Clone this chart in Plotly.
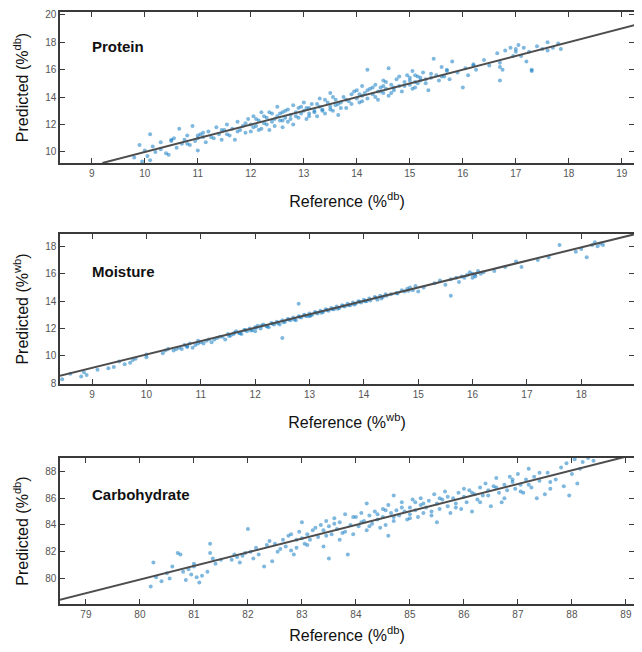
import plotly.graph_objects as go

# ---------------- data ----------------
protein_ref = [9.8, 9.9, 10.0, 10.05, 10.1, 10.15, 10.2, 10.3, 10.4, 10.45, 10.5, 10.55, 10.6, 10.65, 10.7, 10.75, 10.8, 10.85, 10.9, 10.95,
               11.0, 11.0, 11.05, 11.1, 11.15, 11.2, 11.3, 11.35, 11.4, 11.45, 11.5, 11.55, 11.6, 11.65, 11.7, 11.75, 11.8, 11.85, 11.9, 11.95,
               12.0, 12.0, 12.05, 12.1, 12.15, 12.2, 12.2, 12.25, 12.3, 12.35, 12.4, 12.4, 12.45, 12.5, 12.5, 12.55, 12.6, 12.6, 12.65, 12.7,
               12.7, 12.75, 12.8, 12.8, 12.85, 12.9, 12.9, 12.95, 13.0, 13.0, 13.05, 13.1, 13.1, 13.15, 13.2, 13.25, 13.3, 13.3, 13.35, 13.4,
               13.45, 13.5, 13.5, 13.55, 13.6, 13.6, 13.65, 13.7, 13.75, 13.8, 13.85, 13.9, 14.0, 14.0, 14.05, 14.1, 14.1, 14.15, 14.2, 14.2,
               14.25, 14.3, 14.35, 14.4, 14.4, 14.45, 14.5, 14.5, 14.55, 14.6, 14.6, 14.65, 14.7, 14.75, 14.8, 14.85, 14.9, 14.95, 15.0, 15.0,
               15.05, 15.1, 15.1, 15.15, 15.2, 15.25, 15.3, 15.35, 15.4, 15.45, 15.5, 15.55, 15.6, 15.65, 15.7, 15.75, 15.8, 15.9, 16.0, 16.05,
               16.1, 16.2, 16.25, 16.4, 16.5, 16.65, 16.7, 16.7, 16.75, 16.8, 16.9, 16.95, 17.0, 17.05, 17.1, 17.2, 17.25, 17.3, 17.3, 17.4,
               17.5, 17.6, 17.7, 17.8, 17.85, 19.35, 19.45, 10.1, 9.95]
protein_pred = [9.6, 10.5, 10.1, 9.7, 11.3, 10.4, 10.0, 10.7, 9.9, 9.8, 10.9, 11.0, 10.3, 11.7, 10.6, 10.9, 11.2, 10.5, 11.9, 10.8,
                11.0, 10.1, 11.3, 11.1, 10.7, 11.5, 11.0, 11.8, 11.3, 10.9, 11.6, 12.0, 11.2, 11.7, 10.9, 12.2, 11.6, 11.9, 11.4, 12.4,
                12.0, 11.5, 12.6, 11.9, 12.3, 11.7, 12.9, 12.1, 12.5, 11.6, 12.8, 12.2, 11.9, 12.6, 13.3, 12.3, 11.8, 12.9, 12.5, 13.1,
                12.2, 12.7, 13.4, 12.0, 12.9, 13.2, 12.5, 12.8, 13.0, 13.6, 12.4, 13.2, 12.8, 13.5, 13.0, 12.6, 13.3, 13.9, 13.1, 12.8,
                13.6, 13.3, 14.3, 13.0, 13.8, 13.4, 12.7, 13.6, 14.0, 13.2, 13.7, 14.2, 13.9, 14.5, 13.6, 14.1, 14.8, 14.3, 13.9, 16.0,
                14.6, 14.2, 14.9, 14.4, 13.8, 14.7, 14.3, 15.2, 14.6, 14.1, 16.1, 14.9, 14.5, 15.3, 14.8, 14.4, 15.1, 15.6, 14.9, 15.4,
                15.9, 15.1, 14.7, 15.5, 15.2, 15.8, 15.0, 14.5, 15.4, 16.8, 15.6, 15.2, 16.2, 15.5, 15.9, 15.3, 16.6, 15.8, 14.7, 16.1,
                15.6, 16.4, 16.0, 16.7, 16.3, 17.2, 16.2, 15.2, 16.0, 17.4, 17.6, 17.0, 17.5, 17.8, 17.0, 16.6, 17.3, 16.0, 15.9, 17.7,
                17.5, 18.0, 17.6, 17.9, 17.5, 19.7, 19.5, 9.4, 9.3]
protein_ref_b = [11.25, 11.45, 11.55, 11.75, 11.9, 12.05, 12.1, 12.15, 12.25, 12.3, 12.35, 12.45, 12.55, 12.6, 12.65, 12.75,
                 12.85, 12.95, 13.05, 13.1, 13.2, 13.25, 13.35, 13.4, 13.5, 13.55, 13.65, 13.7, 13.8, 13.9, 13.95, 14.05,
                 14.1, 14.2, 14.3, 14.35, 14.45, 14.5, 14.55, 14.65, 14.7, 14.8, 14.9, 15.0, 15.05, 15.1, 15.15, 15.2,
                 15.3, 15.4, 15.6, 15.7, 10.3, 10.5, 10.8, 11.0, 11.1, 16.2, 16.7, 17.0, 17.15, 17.6]
protein_pred_b = [11.1, 11.6, 11.3, 11.5, 12.1, 11.8, 12.4, 11.6, 12.6, 12.0, 12.9, 12.4, 12.8, 12.3, 13.0, 12.4,
                  12.6, 13.3, 13.2, 12.6, 12.9, 13.5, 13.0, 13.8, 13.1, 14.0, 13.5, 13.2, 13.8, 13.5, 14.4, 14.2,
                  13.7, 14.5, 14.7, 14.0, 14.4, 14.8, 15.1, 14.3, 14.7, 15.5, 14.8, 15.2, 14.6, 15.6, 15.0, 15.4,
                  15.3, 15.7, 15.5, 16.0, 10.2, 10.8, 10.6, 11.2, 11.4, 16.3, 16.5, 17.3, 17.6, 17.4]

moisture_ref = [8.45, 8.6, 8.8, 8.85, 8.9, 9.1, 9.3, 9.4, 9.5, 9.6, 9.7, 9.75, 9.8, 10.0, 10.0, 10.3, 10.35, 10.4, 10.5, 10.6,
                10.65, 10.7, 10.75, 10.8, 10.85, 10.9, 10.95, 11.0, 11.05, 11.1, 11.15, 11.2, 11.3, 11.4, 11.45, 11.5, 11.55, 11.6, 11.65, 11.7,
                11.75, 11.8, 11.85, 11.9, 11.95, 12.0, 12.0, 12.05, 12.1, 12.15, 12.2, 12.25, 12.3, 12.35, 12.4, 12.45, 12.5, 12.5, 12.55, 12.6,
                12.65, 12.7, 12.75, 12.8, 12.8, 12.85, 12.9, 12.95, 13.0, 13.0, 13.05, 13.1, 13.15, 13.2, 13.25, 13.3, 13.35, 13.4, 13.45, 13.5,
                13.55, 13.6, 13.65, 13.7, 13.75, 13.8, 13.85, 13.9, 13.95, 14.0, 14.05, 14.1, 14.2, 14.25, 14.3, 14.35, 14.4, 14.5, 14.6, 14.7,
                14.75, 14.8, 14.85, 14.9, 14.95, 15.0, 15.3, 15.4, 15.5, 15.6, 15.6, 15.7, 15.75, 15.8, 15.9, 15.95, 16.0, 16.0, 16.05, 16.1,
                16.15, 16.2, 16.4, 16.6, 16.8, 16.9, 17.2, 17.4, 17.6, 17.9, 18.0, 18.1, 18.2, 18.25, 18.3, 18.35, 18.4, 19.0]
moisture_pred = [8.3, 8.7, 8.5, 8.8, 8.6, 9.0, 9.1, 9.2, 9.6, 9.4, 9.5, 9.7, 9.8, 10.1, 9.9, 10.2, 10.4, 10.5, 10.4, 10.6,
                 10.5, 10.8, 10.7, 10.9, 10.6, 10.8, 11.1, 11.0, 10.9, 11.1, 11.2, 11.0, 11.3, 11.4, 11.2, 11.6, 11.5, 11.6, 11.8, 11.7,
                 11.6, 11.9, 11.8, 12.0, 11.9, 12.1, 11.8, 12.2, 12.0, 12.3, 12.2, 12.1, 12.4, 12.3, 12.5, 12.3, 12.6, 11.3, 12.5, 12.7,
                 12.6, 12.8, 12.6, 12.9, 13.8, 12.8, 13.0, 12.9, 13.1, 12.9, 13.0, 13.2, 13.1, 13.3, 13.2, 13.4, 13.3, 13.5, 13.4, 13.6,
                 13.5, 13.7, 13.6, 13.8, 13.7, 13.9, 13.8, 14.0, 13.9, 14.1, 14.0, 14.2, 14.3, 14.1, 14.4, 14.3, 14.5, 14.5, 14.6, 14.8,
                 14.7, 14.9, 15.0, 14.8, 15.1, 14.7, 15.3, 15.5, 15.2, 15.6, 14.4, 15.7, 15.4, 15.8, 15.9, 16.1, 15.7, 16.0, 15.8, 16.2,
                 16.0, 16.1, 16.2, 16.5, 16.9, 16.5, 17.0, 17.2, 18.1, 17.6, 17.8, 17.2, 18.1, 18.3, 18.0, 18.2, 18.1, 19.0]
moisture_ref_b = [11.52, 11.62, 11.72, 11.82, 11.92, 12.02, 12.12, 12.22, 12.32, 12.42, 12.52, 12.62, 12.72, 12.82,
                  12.92, 13.02, 13.12, 13.22, 13.32, 13.42, 13.52, 13.62, 13.72, 13.82, 13.92, 14.02, 14.12, 14.22,
                  14.32, 14.42, 14.62, 14.82, 10.55, 10.75, 10.95, 11.25, 11.35, 15.1, 15.85, 16.05]
moisture_pred_b = [11.45, 11.7, 11.65, 11.9, 11.85, 12.05, 12.2, 12.15, 12.35, 12.4, 12.45, 12.65, 12.65, 12.85,
                   12.95, 12.95, 13.15, 13.15, 13.35, 13.4, 13.45, 13.65, 13.7, 13.75, 13.95, 14.0, 14.05, 14.25,
                   14.2, 14.4, 14.55, 14.75, 10.5, 10.65, 10.9, 11.2, 11.4, 15.0, 15.7, 15.95]

carb_ref = [80.2, 80.25, 80.3, 80.4, 80.5, 80.55, 80.6, 80.7, 80.75, 80.8, 80.85, 80.9, 80.95, 81.0, 81.05, 81.1, 81.15, 81.25, 81.3, 81.3,
            81.35, 81.4, 81.7, 81.75, 81.8, 81.85, 81.95, 82.0, 82.05, 82.1, 82.2, 82.3, 82.35, 82.4, 82.45, 82.5, 82.6, 82.65, 82.7, 82.75,
            82.8, 82.85, 82.9, 82.9, 82.95, 83.0, 83.0, 83.05, 83.1, 83.15, 83.2, 83.3, 83.35, 83.4, 83.4, 83.45, 83.5, 83.5, 83.55, 83.6,
            83.65, 83.7, 83.7, 83.75, 83.8, 83.85, 83.9, 83.95, 84.0, 84.05, 84.1, 84.15, 84.2, 84.2, 84.25, 84.3, 84.35, 84.4, 84.45, 84.5,
            84.5, 84.55, 84.6, 84.6, 84.65, 84.7, 84.7, 84.75, 84.8, 84.85, 84.9, 84.95, 85.0, 85.0, 85.05, 85.1, 85.15, 85.2, 85.2, 85.25,
            85.3, 85.35, 85.4, 85.45, 85.5, 85.5, 85.55, 85.6, 85.65, 85.7, 85.75, 85.8, 85.85, 85.9, 85.95, 86.0, 86.05, 86.1, 86.15, 86.2,
            86.25, 86.3, 86.35, 86.4, 86.45, 86.5, 86.55, 86.6, 86.65, 86.7, 86.75, 86.8, 86.85, 86.9, 86.95, 87.0, 87.05, 87.1, 87.15, 87.2,
            87.25, 87.3, 87.35, 87.4, 87.5, 87.55, 87.6, 87.7, 87.8, 87.85, 87.9, 87.95, 88.0, 88.05, 88.1, 88.15, 88.2, 88.3, 88.4]
carb_pred = [79.4, 81.2, 80.1, 79.8, 80.4, 80.0, 80.9, 81.9, 81.8, 80.5, 79.9, 80.7, 80.3, 80.9, 80.1, 79.7, 80.2, 80.5, 82.6, 81.9,
             81.5, 81.1, 81.4, 81.8, 81.6, 81.2, 81.9, 83.7, 82.0, 81.5, 81.8, 80.9, 82.5, 82.8, 81.3, 82.6, 82.2, 82.9, 82.4, 83.2,
             82.1, 81.8, 82.9, 82.3, 83.5, 83.0, 84.2, 82.6, 83.3, 82.9, 83.6, 83.1, 84.0, 83.6, 82.4, 84.3, 81.5, 83.9, 83.3, 84.5,
             83.7, 82.9, 84.2, 83.4, 84.8, 81.8, 84.0, 83.3, 84.6, 83.9, 84.9, 84.3, 85.6, 83.6, 84.7, 84.1, 85.0, 84.4, 83.8, 85.2,
             84.6, 84.0, 85.5, 83.2, 84.9, 86.2, 84.3, 85.1, 84.7, 85.7, 85.0, 84.4, 85.3, 84.8, 85.9, 85.1, 84.6, 85.5, 86.0, 84.9,
             85.3, 85.8, 85.0, 86.3, 85.6, 84.2, 85.2, 85.9, 86.5, 85.4, 84.9, 86.0, 85.6, 86.4, 85.2, 86.1, 85.7, 86.6, 85.0, 86.3,
             85.9, 86.8, 86.2, 87.1, 86.6, 85.4, 86.9, 87.5, 86.4, 85.7, 87.0, 86.6, 87.6, 87.2, 86.7, 87.8, 87.0, 86.4, 87.4, 88.2,
             86.8, 87.6, 86.0, 87.3, 86.3, 87.9, 86.7, 87.4, 88.3, 86.9, 88.6, 86.2, 87.8, 88.9, 87.1, 88.2, 88.7, 89.0, 88.8]
carb_ref_b = [82.55, 82.8, 83.1, 83.25, 83.45, 83.6, 83.8, 83.95, 84.1, 84.25, 84.4, 84.55, 84.7, 84.85, 85.0, 85.1, 85.25, 85.4,
              85.55, 85.7, 85.85, 86.0, 86.15, 86.3, 86.45, 86.6, 86.75, 86.9, 87.05, 87.2, 87.4, 87.6, 81.0, 81.5, 81.9, 82.15]
carb_pred_b = [82.0, 83.3, 82.5, 83.8, 83.2, 84.1, 83.5, 84.6, 84.2, 83.9, 84.8, 85.1, 84.6, 85.3, 84.5, 85.7, 85.6, 84.7,
               86.0, 86.1, 85.3, 86.7, 86.4, 85.7, 86.2, 86.8, 86.0, 87.4, 86.5, 87.0, 87.9, 87.2, 81.1, 81.4, 81.7, 82.3]

# fitted lines (end points)
protein_line_x = [9.2, 19.45]
protein_line_y = [9.2, 19.45]
moisture_line_x = [8.4, 19.1]
moisture_line_y = [8.55, 19.0]
carb_line_x = [78.5, 89.0]
carb_line_y = [78.4, 89.1]

panel_names = ["Protein", "Moisture", "Carbohydrate"]
x_titles = ["Reference (%<sup>db</sup>)", "Reference (%<sup>wb</sup>)", "Reference (%<sup>db</sup>)"]
y_titles = ["Predicted (%<sup>db</sup>)", "Predicted (%<sup>wb</sup>)", "Predicted (%<sup>db</sup>)"]
x_ranges = [[8.4, 19.23], [8.41, 18.97], [78.52, 89.15]]
y_ranges = [[9.2, 20.2], [7.95, 18.9], [78.1, 89.0]]
x_ticks = [list(range(9, 20)), list(range(9, 20)), list(range(79, 90))]
y_ticks = [list(range(10, 21, 2)), list(range(8, 19, 2)), list(range(78, 89, 2))]

# ---------------- figure ----------------
fig = go.Figure()
pts_color = "rgba(0,114,189,0.5)"
series = [(protein_ref + protein_ref_b, protein_pred + protein_pred_b, protein_line_x, protein_line_y),
          (moisture_ref + moisture_ref_b, moisture_pred + moisture_pred_b, moisture_line_x, moisture_line_y),
          (carb_ref + carb_ref_b, carb_pred + carb_pred_b, carb_line_x, carb_line_y)]
for i, (rx, py, lx, ly) in enumerate(series):
    xa = "x" if i == 0 else f"x{i+1}"
    ya = "y" if i == 0 else f"y{i+1}"
    fig.add_trace(go.Scatter(x=rx, y=py, mode="markers", xaxis=xa, yaxis=ya,
                             marker=dict(size=4, color=pts_color, line=dict(width=0)),
                             showlegend=False, hoverinfo="skip"))
    fig.add_trace(go.Scatter(x=lx, y=ly, mode="lines", xaxis=xa, yaxis=ya,
                             line=dict(color="#4d4d4d", width=2),
                             showlegend=False, hoverinfo="skip"))

domains = [[0.745, 1.0], [0.3716, 0.625], [0.0, 0.2466]]
x_standoffs = [18, 18, 15]
axis_common = dict(showline=True, mirror="ticks", linecolor="#3a3a3a", linewidth=1.5,
                   ticks="inside", ticklen=5, tickwidth=1, tickcolor="#3a3a3a",
                   showgrid=False, zeroline=False, automargin=False,
                   tickfont=dict(family="Liberation Sans, Arial", size=10, color="#555555"))
layout = dict()
for i in range(3):
    sx = "" if i == 0 else str(i + 1)
    layout[f"xaxis{sx}"] = dict(axis_common, domain=[0, 1], anchor=f"y{sx}", range=x_ranges[i],
                                tickvals=x_ticks[i],
                                title=dict(text=x_titles[i], standoff=x_standoffs[i],
                                           font=dict(family="Liberation Sans, Arial", size=16, color="#111111")))
    layout[f"yaxis{sx}"] = dict(axis_common, domain=domains[i], anchor=f"x{sx}", range=y_ranges[i],
                                tickvals=y_ticks[i],
                                title=dict(text=y_titles[i], standoff=13,
                                           font=dict(family="Liberation Sans, Arial", size=16, color="#111111")))

annots = []
label_y = [0.77, 0.753, 0.753]
for i, name in enumerate(panel_names):
    sx = "" if i == 0 else str(i + 1)
    annots.append(dict(text=f"<b>{name}</b>", xref=f"x{sx} domain", yref=f"y{sx} domain",
                       x=0.052, y=label_y[i], xanchor="left", yanchor="middle", showarrow=False,
                       font=dict(family="Liberation Sans, Arial", size=15, color="#111111")))

# page body adds an 8px margin; size the figure so that nothing overflows the window
fig.update_layout(width=626, height=636, margin=dict(l=52, r=0, t=4, b=40),
                  paper_bgcolor="white", plot_bgcolor="white",
                  annotations=annots, **layout)

fig.write_html("out.html")
